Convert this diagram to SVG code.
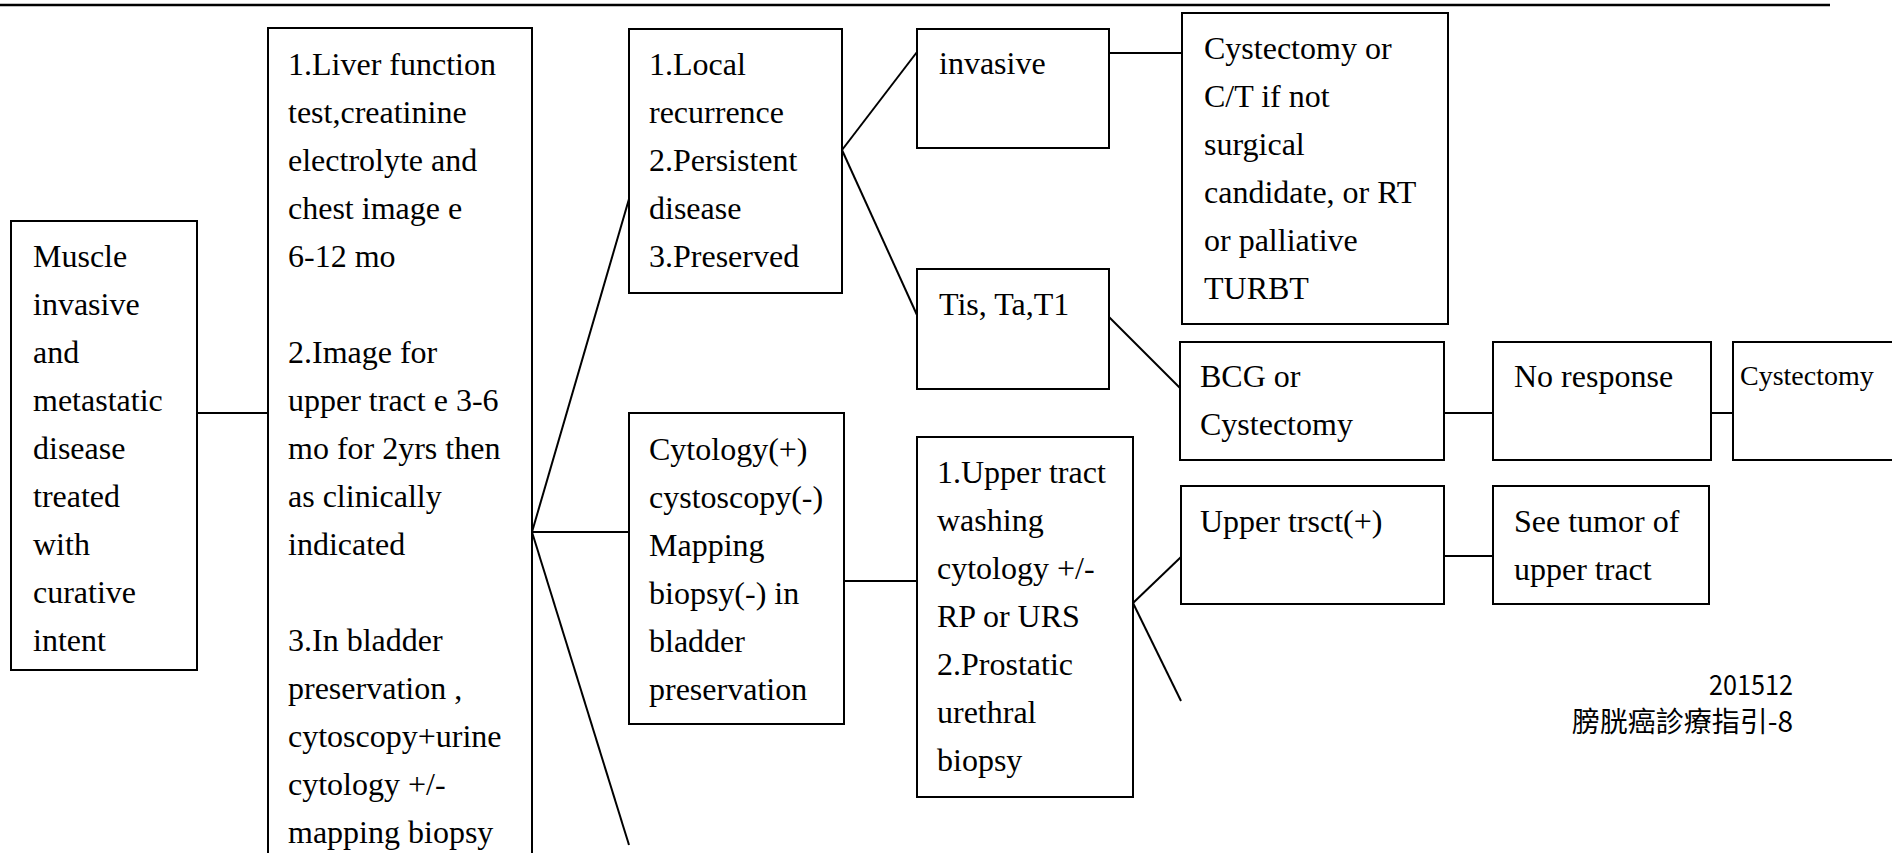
<svg xmlns="http://www.w3.org/2000/svg" width="1892" height="853" viewBox="0 0 1892 853">
<style>
.b{fill:#fff;stroke:#000;stroke-width:2}
.t{font-family:'Liberation Serif',Tinos,'DejaVu Serif',serif;font-size:32px;fill:#000}
.s{font-family:'Liberation Serif',Tinos,'DejaVu Serif',serif;font-size:28px;fill:#000}
.c{stroke:#000;stroke-width:2;fill:none}
.z{font-family:'Noto Sans CJK TC','Noto Sans CJK SC',sans-serif;font-size:28px;fill:#000}
</style>
<rect width="1892" height="853" fill="#fff"/>
<line x1="0" y1="5" x2="1830" y2="5" stroke="#000" stroke-width="2.5"/>
<g id="connectors">
<line class="c" x1="197" y1="413" x2="268" y2="413"/>
<line class="c" x1="532" y1="532" x2="629" y2="199"/>
<line class="c" x1="532" y1="532" x2="629" y2="532"/>
<line class="c" x1="532" y1="532" x2="629" y2="845"/>
<line class="c" x1="842" y1="150" x2="917" y2="52"/>
<line class="c" x1="842" y1="150" x2="917" y2="315"/>
<line class="c" x1="1109" y1="53" x2="1182" y2="53"/>
<line class="c" x1="1109" y1="317" x2="1180" y2="388"/>
<line class="c" x1="1444" y1="413" x2="1493" y2="413"/>
<line class="c" x1="1711" y1="413" x2="1733" y2="413"/>
<line class="c" x1="843" y1="581" x2="917" y2="581"/>
<line class="c" x1="1133" y1="603" x2="1181" y2="557"/>
<line class="c" x1="1133" y1="603" x2="1181" y2="701"/>
<line class="c" x1="1444" y1="556" x2="1493" y2="556"/>
</g>
<g id="n1">
<rect class="b" x="11" y="221" width="186" height="449"/>
<text class="t" x="33" y="267">Muscle</text>
<text class="t" x="33" y="315">invasive</text>
<text class="t" x="33" y="363">and</text>
<text class="t" x="33" y="411">metastatic</text>
<text class="t" x="33" y="459">disease</text>
<text class="t" x="33" y="507">treated</text>
<text class="t" x="33" y="555">with</text>
<text class="t" x="33" y="603">curative</text>
<text class="t" x="33" y="651">intent</text>
</g>
<g id="n2">
<rect class="b" x="268" y="28" width="264" height="850"/>
<text class="t" x="288" y="75">1.Liver function</text>
<text class="t" x="288" y="123">test,creatinine</text>
<text class="t" x="288" y="171">electrolyte and</text>
<text class="t" x="288" y="219">chest image e</text>
<text class="t" x="288" y="267">6-12 mo</text>
<text class="t" x="288" y="363">2.Image for</text>
<text class="t" x="288" y="411">upper tract e 3-6</text>
<text class="t" x="288" y="459">mo for 2yrs then</text>
<text class="t" x="288" y="507">as clinically</text>
<text class="t" x="288" y="555">indicated</text>
<text class="t" x="288" y="651">3.In bladder</text>
<text class="t" x="288" y="699">preservation ,</text>
<text class="t" x="288" y="747">cytoscopy+urine</text>
<text class="t" x="288" y="795">cytology +/-</text>
<text class="t" x="288" y="843">mapping biopsy</text>
</g>
<g id="n3">
<rect class="b" x="629" y="29" width="213" height="264"/>
<text class="t" x="649" y="75">1.Local</text>
<text class="t" x="649" y="123">recurrence</text>
<text class="t" x="649" y="171">2.Persistent</text>
<text class="t" x="649" y="219">disease</text>
<text class="t" x="649" y="267">3.Preserved</text>
</g>
<g id="n4">
<rect class="b" x="629" y="413" width="215" height="311"/>
<text class="t" x="649" y="460">Cytology(+)</text>
<text class="t" x="649" y="508">cystoscopy(-)</text>
<text class="t" x="649" y="556">Mapping</text>
<text class="t" x="649" y="604">biopsy(-) in</text>
<text class="t" x="649" y="652">bladder</text>
<text class="t" x="649" y="700">preservation</text>
</g>
<g id="n5">
<rect class="b" x="917" y="29" width="192" height="119"/>
<text class="t" x="939" y="74">invasive</text>
</g>
<g id="n6">
<rect class="b" x="917" y="269" width="192" height="120"/>
<text class="t" x="939" y="315">Tis, Ta,T1</text>
</g>
<g id="n7">
<rect class="b" x="1182" y="13" width="266" height="311"/>
<text class="t" x="1204" y="59">Cystectomy or</text>
<text class="t" x="1204" y="107">C/T if not</text>
<text class="t" x="1204" y="155">surgical</text>
<text class="t" x="1204" y="203">candidate, or RT</text>
<text class="t" x="1204" y="251">or palliative</text>
<text class="t" x="1204" y="299">TURBT</text>
</g>
<g id="n8">
<rect class="b" x="1180" y="342" width="264" height="118"/>
<text class="t" x="1200" y="387">BCG or</text>
<text class="t" x="1200" y="435">Cystectomy</text>
</g>
<g id="n9">
<rect class="b" x="1493" y="342" width="218" height="118"/>
<text class="t" x="1514" y="387">No response</text>
</g>
<g id="n10">
<rect class="b" x="1733" y="342" width="170" height="118"/>
<text class="s" x="1740" y="385">Cystectomy</text>
</g>
<g id="n11">
<rect class="b" x="917" y="437" width="216" height="360"/>
<text class="t" x="937" y="483">1.Upper tract</text>
<text class="t" x="937" y="531">washing</text>
<text class="t" x="937" y="579">cytology +/-</text>
<text class="t" x="937" y="627">RP or URS</text>
<text class="t" x="937" y="675">2.Prostatic</text>
<text class="t" x="937" y="723">urethral</text>
<text class="t" x="937" y="771">biopsy</text>
</g>
<g id="n12">
<rect class="b" x="1181" y="486" width="263" height="118"/>
<text class="t" x="1200" y="532">Upper trsct(+)</text>
</g>
<g id="n13">
<rect class="b" x="1493" y="486" width="216" height="118"/>
<text class="t" x="1514" y="532">See tumor of</text>
<text class="t" x="1514" y="580">upper tract</text>
</g>
<g id="footer">
<text class="z" x="1793" y="695" text-anchor="end" textLength="84" lengthAdjust="spacingAndGlyphs">201512</text>
<text class="z" x="1793" y="732" text-anchor="end">膀胱癌診療指引-8</text>
</g>
</svg>
